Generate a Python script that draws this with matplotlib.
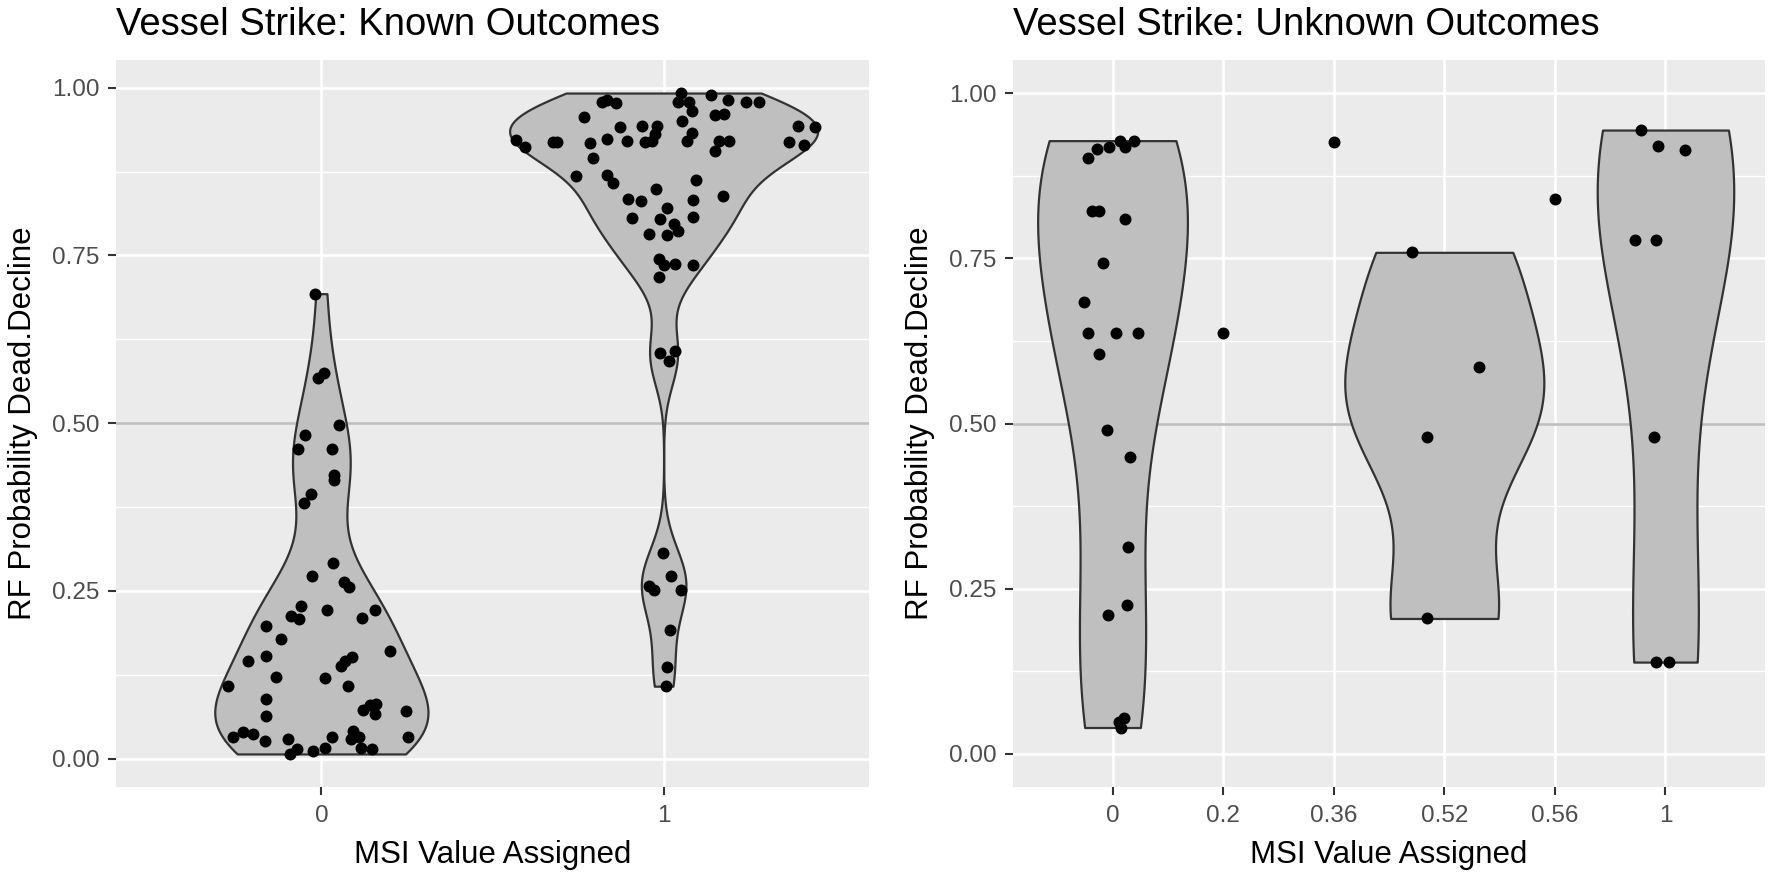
import numpy as np
import matplotlib.pyplot as plt
from matplotlib.ticker import FixedLocator

plt.rcParams['font.family'] = ['Liberation Sans', 'DejaVu Sans']

# ---- Known outcomes panel (MSI 0 / 1) ----
known_labels = ['0', '1']

known_y_0 = [0.693, 0.568, 0.575, 0.497, 0.483, 0.461, 0.461, 0.423, 0.415, 0.395,
             0.381, 0.291, 0.272, 0.264, 0.256, 0.227, 0.213, 0.208, 0.221, 0.222,
             0.210, 0.198, 0.178, 0.160, 0.145, 0.153, 0.151, 0.146, 0.138, 0.122,
             0.120, 0.109, 0.109, 0.089, 0.064, 0.073, 0.080, 0.082, 0.067, 0.071,
             0.032, 0.039, 0.037, 0.026, 0.030, 0.007, 0.015, 0.011, 0.016, 0.032,
             0.041, 0.029, 0.032, 0.016, 0.015, 0.032]
known_jit_0 = [-0.018, -0.011, 0.009, 0.051, -0.048, -0.069, 0.031, 0.038, 0.038, -0.030,
               -0.050, 0.033, -0.027, 0.067, 0.082, -0.059, -0.089, -0.064, 0.017, 0.158,
               0.119, -0.162, -0.118, 0.201, -0.213, -0.162, 0.090, 0.070, 0.058, -0.133,
               0.011, -0.274, 0.077, -0.163, -0.163, 0.122, 0.142, 0.161, 0.156, 0.247,
               -0.258, -0.229, -0.199, -0.165, -0.097, -0.092, -0.070, -0.024, 0.012, 0.030,
               0.091, 0.088, 0.111, 0.115, 0.149, 0.254]

known_y_1 = [0.922, 0.912, 0.919, 0.919, 0.957, 0.979, 0.982, 0.977, 0.917, 0.895,
             0.924, 0.942, 0.921, 0.943, 0.943, 0.931, 0.921, 0.919, 0.868, 0.870,
             0.858, 0.849, 0.834, 0.831, 0.820, 0.806, 0.805, 0.797, 0.786, 0.781,
             0.782, 0.832, 0.808, 0.862, 0.838, 0.744, 0.735, 0.737, 0.735, 0.718,
             0.992, 0.979, 0.978, 0.965, 0.950, 0.933, 0.921, 0.989, 0.982, 0.979,
             0.979, 0.959, 0.961, 0.921, 0.920, 0.905, 0.943, 0.942, 0.919, 0.914,
             0.605, 0.593, 0.607, 0.306, 0.272, 0.257, 0.251, 0.251, 0.191, 0.136,
             0.108]
known_jit_1 = [-0.431, -0.405, -0.322, -0.312, -0.232, -0.181, -0.166, -0.139, -0.215, -0.207,
               -0.166, -0.127, -0.106, -0.062, -0.020, -0.025, -0.035, -0.054, -0.256, -0.166,
               -0.147, -0.022, -0.103, -0.066, 0.009, -0.091, -0.010, 0.029, 0.043, 0.009,
               -0.042, 0.085, 0.085, 0.095, 0.173, -0.015, 0.000, 0.034, 0.085, -0.015,
               0.051, 0.043, 0.075, 0.084, 0.055, 0.082, 0.068, 0.139, 0.188, 0.241,
               0.280, 0.151, 0.175, 0.163, 0.192, 0.151, 0.394, 0.443, 0.365, 0.409,
               -0.012, 0.017, 0.034, -0.002, 0.022, -0.044, -0.027, 0.050, 0.019, 0.011,
               0.006]

# ---- Unknown outcomes panel ----
unknown_labels = ['0', '0.2', '0.36', '0.52', '0.56', '1']

unk_y_0 = [0.902, 0.915, 0.919, 0.928, 0.919, 0.927, 0.822, 0.822, 0.810, 0.743,
           0.684, 0.637, 0.637, 0.637, 0.605, 0.490, 0.449, 0.313, 0.226, 0.210,
           0.055, 0.048, 0.040]
unk_jit_0 = [-0.221, -0.144, -0.032, 0.068, 0.114, 0.190, -0.184, -0.123, 0.114, -0.084,
             -0.260, -0.221, 0.029, 0.232, -0.123, -0.047, 0.157, 0.141, 0.129, -0.041,
             0.105, 0.059, 0.080]
unk_y_02 = [0.637]
unk_jit_02 = [0.0]
unk_y_036 = [0.926]
unk_jit_036 = [0.0]
unk_y_052 = [0.759, 0.586, 0.479, 0.205]
unk_jit_052 = [-0.296, 0.312, -0.154, -0.158]
unk_y_056 = [0.840]
unk_jit_056 = [0.0]
unk_y_1 = [0.944, 0.920, 0.914, 0.777, 0.777, 0.479, 0.139, 0.139]
unk_jit_1 = [-0.223, -0.069, 0.177, -0.273, -0.085, -0.108, -0.082, 0.033]


def bw_nrd0(v):
    # same rule of thumb as R's bw.nrd0
    v = np.asarray(v)
    hi = v.std(ddof=1)
    q25, q75 = np.percentile(v, [25, 75])
    lo = min(hi, (q75 - q25) / 1.34)
    if lo == 0:
        lo = hi or abs(v[0]) or 1.0
    return 0.9 * lo * len(v) ** -0.2


def density(v, n=512):
    v = np.asarray(v)
    bw = bw_nrd0(v)
    grid = np.linspace(v.min(), v.max(), n)
    z = (grid[:, None] - v[None, :]) / bw
    d = np.exp(-0.5 * z ** 2).sum(axis=1) / (len(v) * bw * np.sqrt(2 * np.pi))
    return grid, d


def draw_panel(ax, labels, ys, jits, half_width, title, xlim, ylim):
    ax.set_facecolor('#EBEBEB')
    for s in ax.spines.values():
        s.set_visible(False)

    ax.axhline(0.5, color='#BEBEBE', lw=1.9, zorder=1)

    dens = {}
    for i, v in enumerate(ys):
        if len(v) > 1:
            dens[i] = density(v)
    dmax = max(d.max() for g, d in dens.values())
    for i, (g, d) in dens.items():
        hw = d / dmax * half_width
        ax.fill_betweenx(g, i - hw, i + hw, facecolor='#BFBFBF',
                         edgecolor='#333333', lw=1.6, zorder=2)

    for i, (v, j) in enumerate(zip(ys, jits)):
        ax.scatter(i + np.asarray(j), v, s=74, color='black', linewidths=0, zorder=3)

    ax.set_xlim(*xlim)
    ax.set_ylim(*ylim)
    ax.set_xticks(range(len(labels)))
    ax.set_xticklabels(labels)
    ax.set_yticks([0, 0.25, 0.5, 0.75, 1.0])
    ax.set_yticklabels(['0.00', '0.25', '0.50', '0.75', '1.00'])
    ax.yaxis.set_minor_locator(FixedLocator([0.125, 0.375, 0.625, 0.875]))

    ax.set_axisbelow(True)
    ax.grid(which='major', color='white', lw=1.9)
    ax.grid(which='minor', axis='y', color='white', lw=1.0)

    ax.tick_params(which='major', length=6, width=1.5, color='#333333',
                   labelcolor='#4D4D4D', labelsize=17.5)
    ax.tick_params(axis='y', pad=5.8)
    ax.tick_params(axis='x', pad=7)
    ax.tick_params(which='minor', length=0)

    ax.set_title(title, loc='left', fontsize=27.5, pad=18)
    ax.set_xlabel('MSI Value Assigned', fontsize=22.5)
    ax.set_ylabel('RF Probability Dead.Decline', fontsize=22.5)
    ax.xaxis.set_label_coords(0.5, -0.073)
    ax.yaxis.set_label_coords(-0.104, 0.5)


W, H = 1772, 874
fig = plt.figure(figsize=(W / 100, H / 100), dpi=100)
ax1 = fig.add_axes([116 / W, 1 - 787 / H, 753 / W, 727 / H])
ax2 = fig.add_axes([1013 / W, 1 - 787 / H, 752 / W, 727 / H])

all_known = known_y_0 + known_y_1
lo, hi = min(all_known), max(all_known)
pad = 0.05 * (hi - lo)

draw_panel(ax1, known_labels, [known_y_0, known_y_1], [known_jit_0, known_jit_1],
           0.45, 'Vessel Strike: Known Outcomes', (-0.6, 1.6), (lo - pad, hi + pad))

draw_panel(ax2, unknown_labels,
           [unk_y_0, unk_y_02, unk_y_036, unk_y_052, unk_y_056, unk_y_1],
           [unk_jit_0, unk_jit_02, unk_jit_036, unk_jit_052, unk_jit_056, unk_jit_1],
           0.9, 'Vessel Strike: Unknown Outcomes', (-0.9, 5.9), (-0.05, 1.05))

fig.savefig('out.png', dpi=100)
